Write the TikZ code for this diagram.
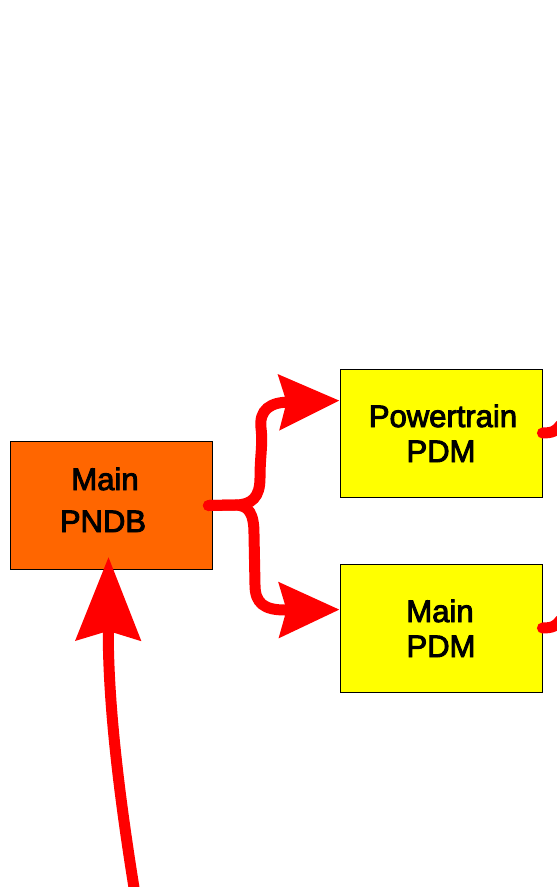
\documentclass[tikz,border=0pt]{standalone}
\usepackage{fontspec}
\setmainfont{Liberation Sans}
\newfontfamily\boxfont[FakeBold=3]{Liberation Sans}
\usetikzlibrary{arrows.meta,calc}
\definecolor{boxorange}{HTML}{FF6600}
\definecolor{boxyellow}{HTML}{FFFF00}
\definecolor{linkred}{HTML}{FF0000}
\tikzset{
  unitbox/.style={draw=black, line width=0.8pt, minimum width=202pt, minimum height=128pt,
    inner sep=0pt},
  boxtext/.style={anchor=base, inner sep=0pt, font=\boxfont\fontsize{31}{37}\selectfont},
  feed/.style={draw=linkred, line width=11pt, line cap=round,
    -{Stealth[length=60pt, width=54pt, inset=7pt]}},
  bigfeed/.style={draw=linkred, line width=11pt,
    -{Stealth[length=83pt, width=64pt, inset=9pt]}},
  stub/.style={draw=linkred, line width=11pt, line cap=round},
}
\begin{document}
\begin{tikzpicture}[x=1pt, y=-1pt]
\useasboundingbox (0,0) rectangle (557,887);
\clip (0,0) rectangle (557,887);
\node[unitbox, fill=boxorange] (pndb) at (111,505.5) {};
\node[unitbox, fill=boxyellow] (pt) at (441,433) {};
\node[unitbox, fill=boxyellow] (mp) at (441,628) {};
\node[boxtext] (pndbA) at (105,490) {Main};
\node[boxtext] (pndbB) at (103,532) {PNDB};
\node[boxtext] (ptA) at (443,427) {Powertrain};
\node[boxtext] (ptB) at (441,462) {PDM};
\node[boxtext] (mpA) at (440,622) {Main};
\node[boxtext] (mpB) at (441,657) {PDM};
\coordinate (src) at (136,900);
\coordinate (fork) at ($(pndb.east)+(-4,0)$);
\coordinate (pttip) at ($(pt.north west)+(0,32)$);
\coordinate (mptip) at ($(mp.north west)+(0,46)$);
% fork
\draw[feed] (fork) -- (235,505)
  .. controls (252,505) and (260,497) .. (260,478)
  .. controls (260,455) and (263,445) .. (261,428)
  .. controls (259,410) and (270,402) .. (290,402) -- (pttip);
\draw[feed] (fork) -- (235,505)
  .. controls (249,505) and (254,514) .. (254,534)
  -- (255,585)
  .. controls (255,603) and (264,610) .. (285,610) -- (mptip);
% bottom arrow
\draw[bigfeed] (src) .. controls (118,790) and (108,700) .. ($(pndb.south)+(-2.5,-13)$);
% stubs leaving the picture
\draw[stub] (pt.east) .. controls ++(10,0) and ++(-4,6) .. ++(18,-8);
\draw[stub] (mp.east) .. controls ++(10,0) and ++(-4,6) .. ++(18,-8);
\end{tikzpicture}
\end{document}
